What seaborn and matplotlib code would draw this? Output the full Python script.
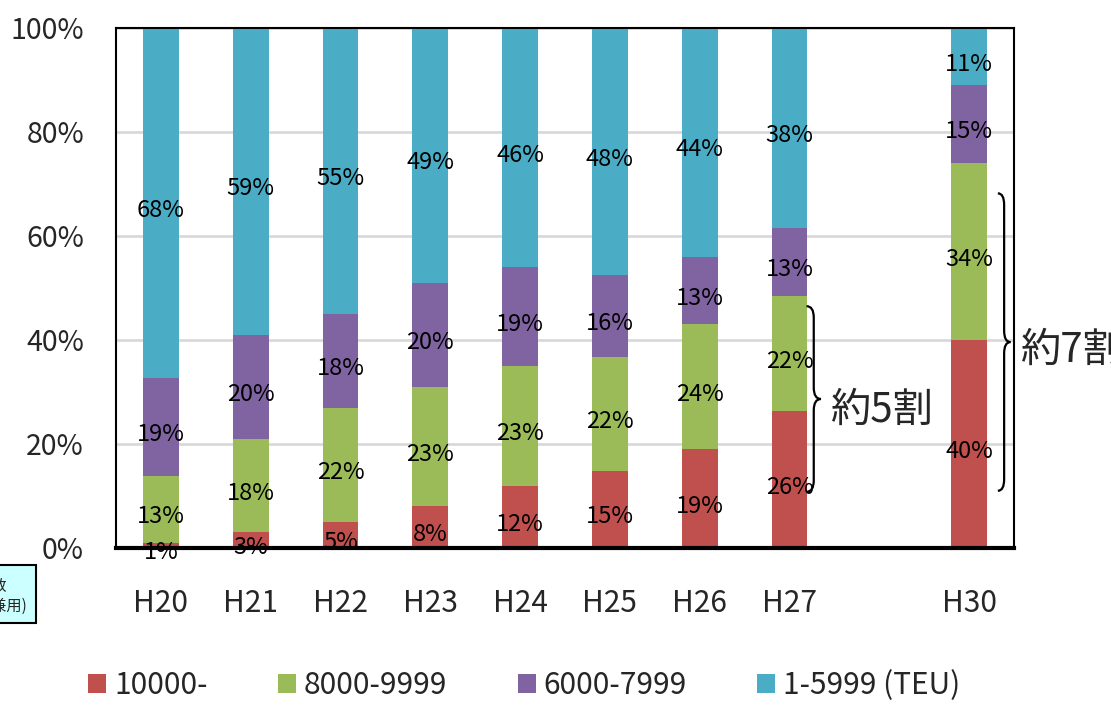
import matplotlib
matplotlib.use("Agg")
import matplotlib.pyplot as plt
from matplotlib.patches import Patch, Rectangle, PathPatch
from matplotlib.path import Path
from matplotlib.transforms import offset_copy
import numpy as np
import pandas as pd
import seaborn as sns

# Share of vessels by size class (TEU), percent labels as printed
YEARS = ["H20", "H21", "H22", "H23", "H24", "H25", "H26", "H27", "H30"]
ORDER = ["H20", "H21", "H22", "H23", "H24", "H25", "H26", "H27", " ", "H30"]
S10000 = [1, 3, 5, 8, 12, 15, 19, 26, 40]
S8000 = [13, 18, 22, 23, 23, 22, 24, 22, 34]
S6000 = [19, 20, 18, 20, 19, 16, 13, 13, 15]
S1 = [68, 59, 55, 49, 46, 48, 44, 38, 11]
SERIES = ["10000-", "8000-9999", "6000-7999", "1-5999 (TEU)"]
COLORS = ["#C0504D", "#9BBB59", "#8064A2", "#4BACC6"]

FONT = ["Noto Sans CJK JP", "DejaVu Sans"]

sns.set_theme(style="white")
plt.rcParams["font.family"] = FONT

df = pd.DataFrame({"year": YEARS, "a": S10000, "b": S8000, "c": S6000, "d": S1})
tot = df[["a", "b", "c", "d"]].sum(axis=1)
for k in ["a", "b", "c", "d"]:
    df[k + "_n"] = df[k] / tot * 100
df["cum1"] = df["a_n"]
df["cum2"] = df["cum1"] + df["b_n"]
df["cum3"] = df["cum2"] + df["c_n"]
df["cum4"] = df["cum3"] + df["d_n"]

fig = plt.figure(figsize=(11.11, 7.08), dpi=100)
ax = fig.add_axes([0.1044, 0.226, 0.8083, 0.7345])

# layered cumulative bars, tallest first
for col, color in zip(["cum4", "cum3", "cum2", "cum1"], COLORS[::-1]):
    sns.barplot(data=df, x="year", y=col, order=ORDER, color=color,
                saturation=1, width=0.4, errorbar=None, linewidth=0,
                ax=ax, zorder=2)

# segment labels (nudged down a few pixels like the original)
lbl_tr = offset_copy(ax.transData, fig=fig, y=-5, units="dots")
xpos = {c: i for i, c in enumerate(ORDER)}
for _, row in df.iterrows():
    x = xpos[row["year"]]
    bottom = 0
    for k in ["a", "b", "c", "d"]:
        h = row[k + "_n"]
        ax.text(x, bottom + h / 2, f"{row[k]}%", ha="center", va="center_baseline",
                fontsize=17, color="black", zorder=4, clip_on=False,
                transform=lbl_tr)
        bottom += h

ax.set_xlim(-0.5, 9.5)
ax.set_ylim(0, 100)
ax.set_yticks(range(0, 101, 20))
ax.set_yticklabels([f"{v}%" for v in range(0, 101, 20)])
ax.set_xlabel("")
ax.set_ylabel("")
ax.tick_params(axis="y", length=0, labelsize=20.5, pad=23)
ax.tick_params(axis="x", length=0, labelsize=21.5, pad=29)
ax.yaxis.grid(True, color="#d9d9d9", lw=2, zorder=0)
ax.set_axisbelow(True)
for side in ["left", "top", "right"]:
    ax.spines[side].set_color("black")
    ax.spines[side].set_linewidth(1.5)
ax.spines["bottom"].set_color("black")
ax.spines["bottom"].set_linewidth(3)


def brace(ax, xl, xr, y0, y1, r=2.2):
    xm = (xl + xr) / 2
    ym = (y0 + y1) / 2
    verts = [(xl, y1), (xm, y1), (xm, y1 - r),
             (xm, ym + r),
             (xm, ym), (xr, ym),
             (xm, ym), (xm, ym - r),
             (xm, y0 + r),
             (xm, y0), (xl, y0)]
    codes = [Path.MOVETO, Path.CURVE3, Path.CURVE3,
             Path.LINETO,
             Path.CURVE3, Path.CURVE3,
             Path.CURVE3, Path.CURVE3,
             Path.LINETO,
             Path.CURVE3, Path.CURVE3]
    ax.add_patch(PathPatch(Path(verts, codes), fill=False, lw=1.6,
                           edgecolor="black", clip_on=False, zorder=5))


brace(ax, 7.19, 7.35, 10.8, 46.5)
ax.text(7.45, 27.3, "約5割", fontsize=29, ha="left", va="center_baseline", clip_on=False)
brace(ax, 9.32, 9.46, 11.0, 68.2)
ax.text(9.57, 38.8, "約7割", fontsize=29, ha="left", va="center_baseline", clip_on=False)

# partially visible note box at the lower left
fig.patches.append(Rectangle((-0.005, 0.12), 0.037, 0.082, transform=fig.transFigure,
                             facecolor="#CCFFFF", edgecolor="black", lw=1.5, zorder=1))
fig.text(0.006, 0.172, "隻数", fontsize=11, ha="right", va="center")
fig.text(0.025, 0.143, "(兼用)", fontsize=11, ha="right", va="center")

handles = [Patch(facecolor=c, edgecolor="none") for c in COLORS]
fig.legend(handles, SERIES, loc="center", bbox_to_anchor=(0.472, 0.032), ncol=4,
           frameon=False, fontsize=21.5, handlelength=0.6, handleheight=0.6,
           handletextpad=0.27, columnspacing=2.35)

fig.savefig("out.png", dpi=100)
